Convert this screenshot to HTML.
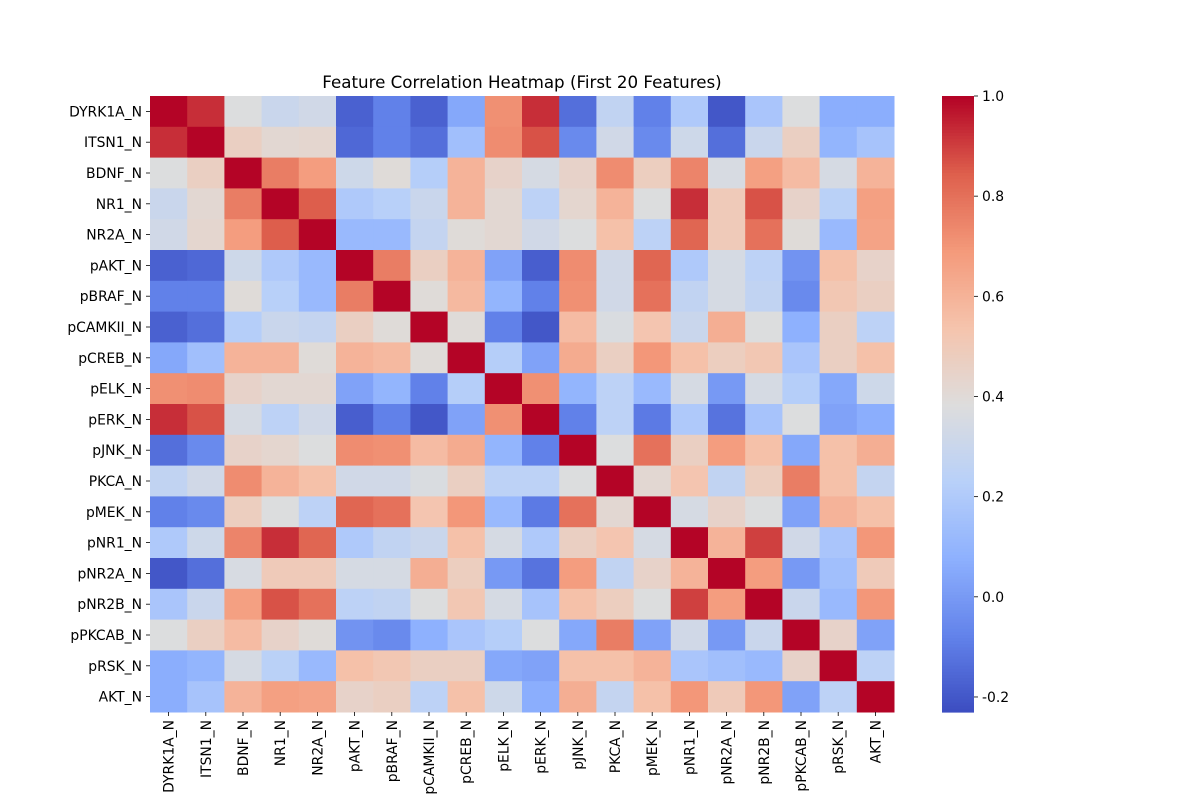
<!DOCTYPE html>
<html><head><meta charset="utf-8"><style>
body{margin:0;background:#fff;}
svg{display:block;font-family:"DejaVu Sans","Liberation Sans",sans-serif;}
</style></head><body>
<svg id="chart" width="1200" height="800" xmlns="http://www.w3.org/2000/svg">
<text x="522" y="88" text-anchor="middle" font-size="16.7" fill="#000">Feature Correlation Heatmap (First 20 Features)</text>
<g id="cells"></g>
<g id="ylabels"></g>
<g id="xlabels"></g>
<g id="cbar"></g>
</svg>
<script>
const features = ["DYRK1A_N","ITSN1_N","BDNF_N","NR1_N","NR2A_N","pAKT_N","pBRAF_N","pCAMKII_N","pCREB_N","pELK_N","pERK_N","pJNK_N","PKCA_N","pMEK_N","pNR1_N","pNR2A_N","pNR2B_N","pPKCAB_N","pRSK_N","AKT_N"];
const row0 = [1,0.93,0.38,0.3,0.33,-0.17,-0.08,-0.17,0.05,0.72,0.93,-0.13,0.27,-0.08,0.2,-0.2,0.18,0.38,0.07,0.07];
const row1 = [0.93,1,0.47,0.42,0.43,-0.15,-0.08,-0.13,0.15,0.73,0.87,-0.05,0.33,-0.05,0.32,-0.13,0.3,0.47,0.1,0.17];
const row2 = [0.38,0.47,1,0.77,0.68,0.32,0.4,0.22,0.6,0.45,0.35,0.45,0.73,0.48,0.75,0.36,0.67,0.57,0.35,0.6];
const row3 = [0.3,0.42,0.77,1,0.85,0.2,0.23,0.3,0.6,0.42,0.25,0.43,0.6,0.38,0.93,0.5,0.87,0.45,0.24,0.67];
const row4 = [0.33,0.43,0.68,0.85,1,0.12,0.12,0.28,0.4,0.42,0.33,0.38,0.55,0.25,0.83,0.5,0.8,0.4,0.12,0.66];
const row5 = [-0.17,-0.15,0.32,0.2,0.12,1,0.77,0.47,0.6,0.03,-0.18,0.73,0.33,0.83,0.2,0.35,0.25,-0.02,0.55,0.45];
const row6 = [-0.08,-0.08,0.4,0.23,0.12,0.77,1,0.4,0.58,0.1,-0.08,0.72,0.33,0.8,0.27,0.35,0.27,-0.05,0.52,0.47];
const row7 = [-0.17,-0.13,0.22,0.3,0.28,0.47,0.4,1,0.4,-0.08,-0.2,0.57,0.37,0.53,0.3,0.62,0.38,0.08,0.47,0.25];
const row8 = [0.05,0.15,0.6,0.6,0.4,0.6,0.58,0.4,1,0.22,0.03,0.63,0.47,0.7,0.55,0.48,0.52,0.18,0.47,0.55];
const row9 = [0.72,0.73,0.45,0.42,0.42,0.03,0.1,-0.08,0.22,1,0.72,0.1,0.25,0.12,0.35,0.0,0.35,0.22,0.05,0.32];
const row10 = [0.93,0.87,0.35,0.25,0.33,-0.18,-0.08,-0.2,0.03,0.72,1,-0.08,0.25,-0.1,0.2,-0.12,0.17,0.38,0.03,0.07];
const row11 = [-0.13,-0.05,0.45,0.43,0.38,0.73,0.72,0.57,0.63,0.1,-0.08,1,0.38,0.8,0.47,0.68,0.55,0.05,0.55,0.62];
const row12 = [0.27,0.33,0.73,0.6,0.55,0.33,0.33,0.37,0.47,0.25,0.25,0.38,1,0.42,0.53,0.27,0.48,0.77,0.55,0.28];
const row13 = [-0.08,-0.05,0.48,0.38,0.25,0.83,0.8,0.53,0.7,0.12,-0.1,0.8,0.42,1,0.35,0.45,0.38,0.03,0.6,0.55];
const row14 = [0.2,0.32,0.75,0.93,0.83,0.2,0.27,0.3,0.55,0.35,0.2,0.47,0.53,0.35,1,0.6,0.9,0.33,0.18,0.7];
const row15 = [-0.2,-0.13,0.36,0.5,0.5,0.35,0.35,0.62,0.48,0.0,-0.12,0.68,0.27,0.45,0.6,1,0.68,0.0,0.15,0.5];
const row16 = [0.18,0.3,0.67,0.87,0.8,0.25,0.27,0.38,0.52,0.35,0.17,0.55,0.48,0.38,0.9,0.68,1,0.3,0.12,0.7];
const row17 = [0.38,0.47,0.57,0.45,0.4,-0.02,-0.05,0.08,0.18,0.22,0.38,0.05,0.77,0.03,0.33,0.0,0.3,1,0.45,0.03];
const row18 = [0.07,0.1,0.35,0.24,0.12,0.55,0.52,0.47,0.47,0.05,0.03,0.55,0.55,0.6,0.18,0.15,0.12,0.45,1,0.25];
const row19 = [0.07,0.17,0.6,0.67,0.66,0.45,0.47,0.25,0.55,0.32,0.07,0.62,0.28,0.55,0.7,0.5,0.7,0.03,0.25,1];
const matrix = [row0,row1,row2,row3,row4,row5,row6,row7,row8,row9,row10,row11,row12,row13,row14,row15,row16,row17,row18,row19];
const cbarTicks = [-0.2,0.0,0.2,0.4,0.6,0.8,1.0];
const vmin = -0.23, vmax = 1.0;

const NS = "http://www.w3.org/2000/svg";
const L = 150, T = 96, W = 744, H = 616;
const cw = W / features.length, ch = H / features.length;
const xPos = i => L + i * cw;
const yPos = i => T + i * ch;
const stops = [[59,76,192],[98,130,234],[141,176,254],[184,208,249],[221,221,221],[245,196,173],[244,154,123],[222,96,77],[180,4,38]];
function cmap(v){
  let t = (v - vmin) / (vmax - vmin); t = Math.max(0, Math.min(1, t));
  const p = t * (stops.length - 1), i = Math.min(stops.length - 2, Math.floor(p)), f = p - i;
  const c = stops[i].map((a, k) => Math.round(a + (stops[i+1][k] - a) * f));
  return `rgb(${c[0]},${c[1]},${c[2]})`;
}
function mk(tag, attrs, parent){
  const e = document.createElementNS(NS, tag);
  for (const k in attrs) e.setAttribute(k, attrs[k]);
  parent.appendChild(e); return e;
}
const cells = document.getElementById('cells');
matrix.forEach((row, r) => row.forEach((v, c) => {
  const el = mk('rect', {x: xPos(c), y: yPos(r), width: cw + 0.5, height: ch + 0.5, fill: cmap(v)}, cells);
  
  
}));
const yl = document.getElementById('ylabels'), xl = document.getElementById('xlabels');
features.forEach((f, i) => {
  const yc = yPos(i) + ch / 2;
  mk('line', {x1: L - 4, x2: L, y1: yc, y2: yc, stroke: '#000', 'stroke-width': 0.8}, yl);
  const t = mk('text', {x: L - 8, y: yc + 5, 'text-anchor': 'end', 'font-size': 13.9}, yl);
  t.textContent = f;
  
  
  const xc = xPos(i) + cw / 2;
  mk('line', {x1: xc, x2: xc, y1: T + H, y2: T + H + 4, stroke: '#000', 'stroke-width': 0.8}, xl);
  const tx = mk('text', {x: 0, y: 0, 'text-anchor': 'end', 'font-size': 13.9, transform: `translate(${xc + 5},${T + H + 8}) rotate(-90)`}, xl);
  tx.textContent = f;
  
  
});
const cb = document.getElementById('cbar');
const CX = 942, CW = 32;
const cy = v => T + (vmax - v) / (vmax - vmin) * H;
for (let k = 0; k < 200; k++) {
  const v0 = vmax - k * (vmax - vmin) / 200;
  mk('rect', {x: CX, y: cy(v0), width: CW, height: H / 200 + 0.6, fill: cmap(v0)}, cb);
}
cbarTicks.forEach(v => {
  const y = cy(v);
  mk('line', {x1: CX + CW, x2: CX + CW + 4, y1: y, y2: y, stroke: '#000', 'stroke-width': 0.8}, cb);
  const t = mk('text', {x: CX + CW + 8, y: y + 5, 'font-size': 13.9}, cb);
  t.textContent = v.toFixed(1);
  
  
});
</script>
</body></html>
